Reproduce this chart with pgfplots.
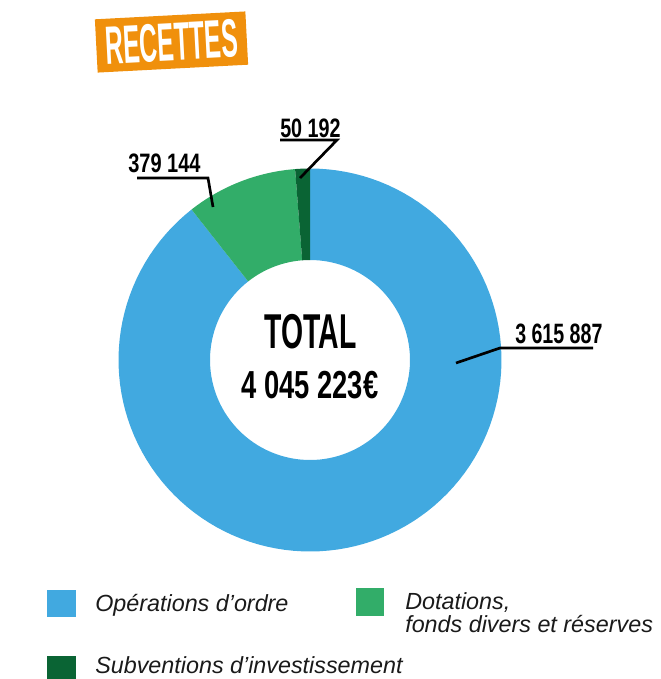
\documentclass[border=0pt]{standalone}
\usepackage{graphicx}
\usepackage{fontspec}
\usepackage{pgfplots}
\usepackage{pgfplotstable}
\pgfplotsset{compat=1.18}
\setmainfont{Liberation Sans}
\newfontfamily\numfont{Liberation Sans Bold}
\newfontfamily\legfont{Liberation Sans Italic}
\definecolor{cblue}{HTML}{41A9E0}
\definecolor{cgreen}{HTML}{32AD69}
\definecolor{cdark}{HTML}{0A6434}
\definecolor{corange}{HTML}{F0900C}
\definecolor{ctext}{HTML}{1A1A1A}

\pgfplotstableread{
label value
ordre 3615887
dotations 379144
subventions 50192
}\datatable

\pgfplotstablegetelem{0}{value}\of\datatable \let\va\pgfplotsretval
\pgfplotstablegetelem{1}{value}\of\datatable \let\vb\pgfplotsretval
\pgfplotstablegetelem{2}{value}\of\datatable \let\vc\pgfplotsretval
\edef\vt{\fpeval{\va+\vb+\vc}}
\edef\aA{90}
\edef\aB{\fpeval{90-360*\va/\vt}}
\edef\aC{\fpeval{\aB-360*\vb/\vt}}
\edef\aD{\fpeval{\aC-360*\vc/\vt}}

% sector of the ring: colour, start angle, end angle
\newcommand{\sector}[3]{%
  \addplot[fill=#1, draw=none, domain=0:3, samples=361, variable=\t]
  ({310 + (191.5 - 91.5*min(max(\t-1,0),1))*cos((#2) + ((#3)-(#2))*(min(\t,1)-max(\t-2,0)))},
   {360 - (191.5 - 91.5*min(max(\t-1,0),1))*sin((#2) + ((#3)-(#2))*(min(\t,1)-max(\t-2,0)))});
}

\begin{document}
\begin{tikzpicture}
\begin{axis}[
  hide axis, scale only axis,
  width=495.75pt, height=509.25pt,
  xmin=0, xmax=661, ymin=0, ymax=679,
  y dir=reverse, clip=false,
]
\sector{cblue}{\aA}{\aB}
\sector{cgreen}{\aB}{\aC}
\sector{cdark}{\aC}{\aD}

\coordinate (BL) at (axis cs:0,679);
\coordinate (TR) at (axis cs:661,0);

% title
\node[fill=corange, rotate=3, minimum width=113pt, minimum height=40pt, inner sep=0pt, text=white]
  at (axis cs:171.5,42) {\scalebox{0.46}[1]{\numfont\fontsize{40.5}{42}\selectfont RECETTES}};

% centre text
\node[anchor=base, inner sep=0pt] at (axis cs:310.5,348)
  {\scalebox{0.58}[1]{\numfont\fontsize{36.7}{40}\selectfont TOTAL}};
\node[anchor=base, inner sep=0pt] at (axis cs:310,398)
  {\scalebox{0.70}[1]{\numfont\fontsize{29.3}{32}\selectfont 4 045 223€}};

% value labels
\node[anchor=base west, inner sep=0pt] at (axis cs:280,137)
  {\scalebox{0.74}[1]{\numfont\fontsize{20}{24}\selectfont 50 192}};
\draw[line width=2pt] (axis cs:280,140) -- (axis cs:337,140) -- (axis cs:300,178);

\node[anchor=base west, inner sep=0pt] at (axis cs:128,172)
  {\scalebox{0.75}[1]{\numfont\fontsize{20}{24}\selectfont 379 144}};
\draw[line width=2pt] (axis cs:137,178) -- (axis cs:208,178) -- (axis cs:213,207);

\node[anchor=base west, inner sep=0pt] at (axis cs:515,343)
  {\scalebox{0.70}[1]{\numfont\fontsize{21}{24}\selectfont 3 615 887}};
\draw[line width=2pt] (axis cs:593,348) -- (axis cs:500,348) -- (axis cs:456,363);

% legend
\fill[cblue] (axis cs:47,590) rectangle (axis cs:76,617);
\node[anchor=base west, inner sep=0pt, text=ctext] at (axis cs:95,611)
  {\legfont\fontsize{17.5}{17.5}\selectfont Opérations d’ordre};
\fill[cgreen] (axis cs:356,588) rectangle (axis cs:384,616);
\node[anchor=base west, inner sep=0pt, text=ctext] at (axis cs:405,609)
  {\legfont\fontsize{17.5}{17.5}\selectfont Dotations,};
\node[anchor=base west, inner sep=0pt, text=ctext] at (axis cs:405,632)
  {\legfont\fontsize{17.5}{17.5}\selectfont fonds divers et réserves};
\fill[cdark] (axis cs:47,656) rectangle (axis cs:76,683);
\node[anchor=base west, inner sep=0pt, text=ctext] at (axis cs:95,673)
  {\legfont\fontsize{17.5}{17.5}\selectfont Subventions d’investissement};
\end{axis}
\pgfresetboundingbox
\path[use as bounding box] (BL) rectangle (TR);
\end{tikzpicture}
\end{document}
